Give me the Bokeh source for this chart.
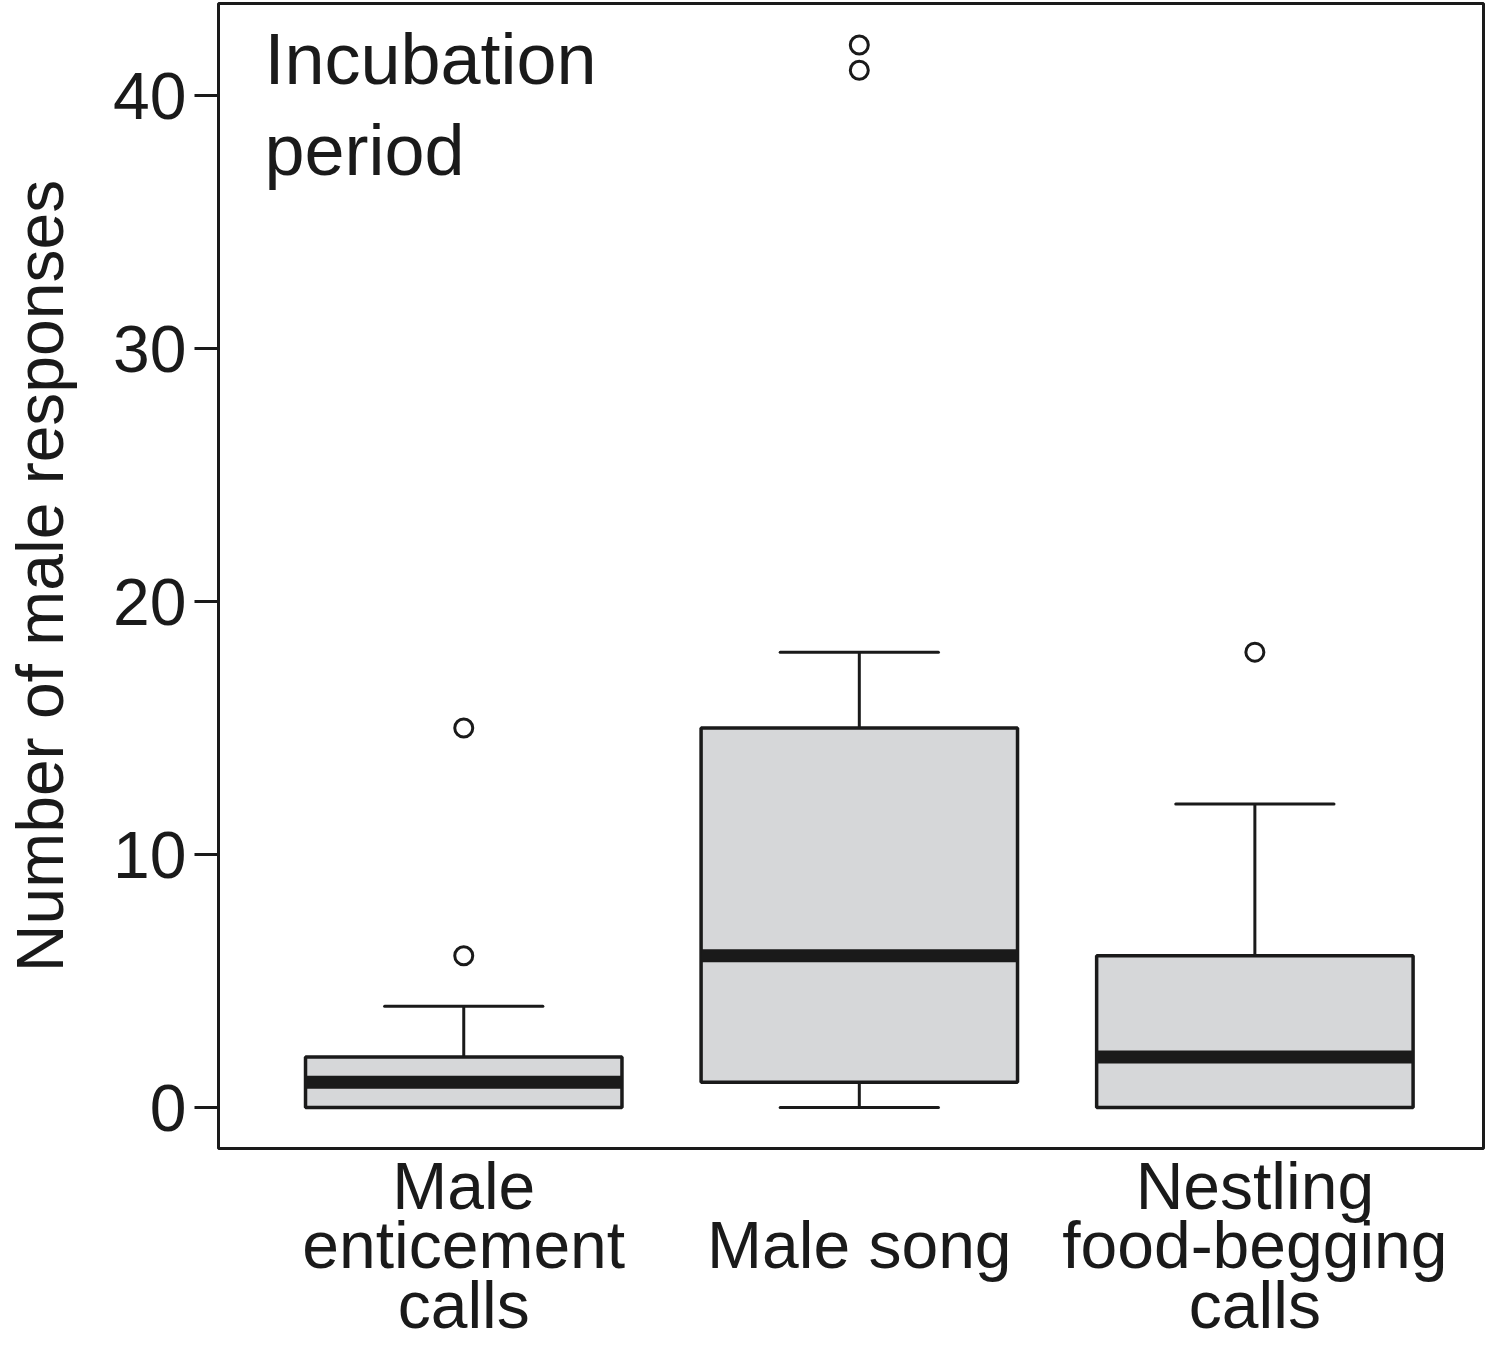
from bokeh.plotting import figure
from bokeh.models import Range1d, FixedTicker, Label, ColumnDataSource
from bokeh.embed import file_html
from bokeh.resources import INLINE

# ---- data ----
groups = ["Male\nenticement\ncalls", "\nMale song", "Nestling\nfood-begging\ncalls"]
pos = [1, 2, 3]
q1 = [0, 1, 0]
median = [1, 6, 2]
q3 = [2, 15, 6]
whisk_lo = [0, 0, 0]
whisk_hi = [4, 18, 12]
out_x = [1, 1, 2, 2, 3]
out_y = [6, 15, 41, 42, 18]
yticks = [0, 10, 20, 30, 40]

FONT = "Liberation Sans"
W, H = 1486, 1345

p = figure(width=W, height=H, output_backend="svg", toolbar_location=None,
           x_range=Range1d(0.38, 3.578), y_range=Range1d(-1.62, 43.64),
           min_border_left=218, min_border_right=3, min_border_top=3,
           min_border_bottom=197)
p.grid.visible = False
p.background_fill_color = "white"
p.border_fill_color = "white"
p.outline_line_color = "#1a1a1a"
p.outline_line_width = 3

bw = 0.4
src = ColumnDataSource(dict(
    x=pos, q1=q1, med=median, q3=q3, lo=whisk_lo, hi=whisk_hi,
    left=[v - bw for v in pos], right=[v + bw for v in pos],
    cl=[v - bw / 2 for v in pos], cr=[v + bw / 2 for v in pos],
))

# whiskers
p.segment(x0="x", y0="q3", x1="x", y1="hi", source=src, line_color="#1a1a1a", line_width=3)
p.segment(x0="x", y0="q1", x1="x", y1="lo", source=src, line_color="#1a1a1a", line_width=3)
p.segment(x0="cl", y0="hi", x1="cr", y1="hi", source=src, line_color="#1a1a1a", line_width=3,
          line_cap="round")
p.segment(x0="cl", y0="lo", x1="cr", y1="lo", source=src, line_color="#1a1a1a", line_width=3,
          line_cap="round")
# boxes
p.quad(left="left", right="right", bottom="q1", top="q3", source=src,
       fill_color="#d6d7d9", line_color="#1a1a1a", line_width=3.5)
# medians
p.segment(x0="left", y0="med", x1="right", y1="med", source=src, line_color="#1a1a1a",
          line_width=13)
# outliers
p.scatter(x=out_x, y=out_y, marker="circle", size=18, fill_color="white",
          line_color="#1a1a1a", line_width=3)

# axes
xa = p.xaxis[0]
xa.ticker = FixedTicker(ticks=pos)
xa.major_label_overrides = {v: g for v, g in zip(pos, groups)}
xa.axis_line_color = None
xa.major_tick_line_color = None
xa.minor_tick_line_color = None
xa.major_tick_out = 0
xa.major_tick_in = 0
xa.major_label_text_font = FONT
xa.major_label_text_font_size = "66px"
xa.major_label_text_color = "#1a1a1a"
xa.major_label_text_line_height = 0.81
xa.major_label_standoff = 0

ya = p.yaxis[0]
ya.ticker = FixedTicker(ticks=yticks)
ya.axis_line_color = None
ya.major_tick_line_color = "#1a1a1a"
ya.major_tick_line_width = 3
ya.major_tick_out = 24
ya.major_tick_in = 0
ya.minor_tick_line_color = None
ya.major_label_text_font = FONT
ya.major_label_text_font_size = "66px"
ya.major_label_text_color = "#1a1a1a"
ya.major_label_standoff = 8
ya.axis_label = "Number of male responses"
ya.axis_label_text_font = FONT
ya.axis_label_text_font_size = "66px"
ya.axis_label_text_font_style = "normal"
ya.axis_label_text_color = "#1a1a1a"
ya.axis_label_standoff = 33

# panel title
for txt, yy in [("Incubation", 41.43), ("period", 37.85)]:
    p.add_layout(Label(x=0.496, y=yy, text=txt, text_font=FONT,
                       text_font_size="72px", text_color="#1a1a1a",
                       text_baseline="alphabetic", text_align="left"))

open("out.html", "w").write(file_html(p, INLINE))
